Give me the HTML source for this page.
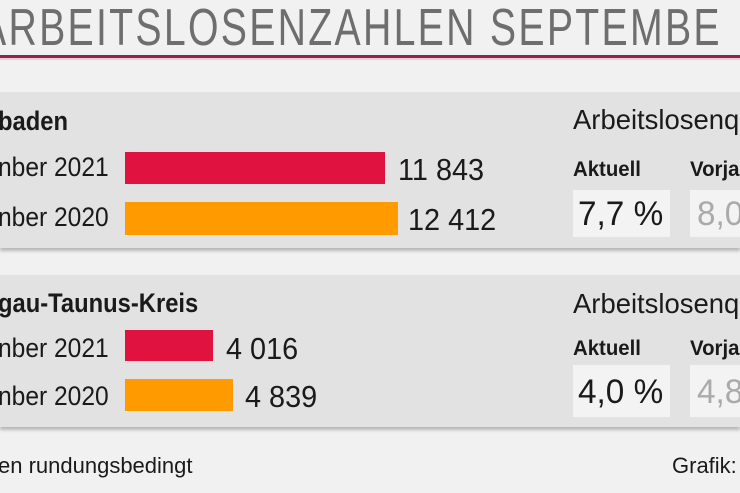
<!DOCTYPE html>
<html><head><meta charset="utf-8"><style>
body{margin:0;width:740px;height:493px;overflow:hidden;background:#f1f1f1;font-family:"Liberation Sans",sans-serif;position:relative}
.t{position:absolute;white-space:nowrap;transform-origin:0 0;line-height:1}
.panel{position:absolute;left:0;width:740px;background:#e2e2e2;box-shadow:0 3px 3px #b8b8b8}
.bar{position:absolute;left:125px}
.box{position:absolute;background:#f3f3f3}
</style></head><body>
<div class="t" style="left:-20px;top:2px;font-size:52px;color:#6e6e6e;letter-spacing:3px;transform:scaleX(0.755)">ARBEITSLOSENZAHLEN SEPTEMBE</div>
<div style="position:absolute;left:0;top:55px;width:740px;height:3px;background:#8a2a4a"></div>
<div style="position:absolute;left:0;top:58px;width:740px;height:2px;background:#f4c8d4"></div>

<div class="panel" style="top:92px;height:156px"></div>
<div class="panel" style="top:275px;height:152px"></div>

<div class="t" style="left:-2px;top:108px;font-size:27px;font-weight:bold;color:#1a1a1a;transform:scaleX(0.88)">baden</div>
<div class="t" style="left:-2px;top:154px;font-size:27px;color:#1a1a1a;transform:scaleX(0.91)">nber 2021</div>
<div class="t" style="left:-2px;top:204px;font-size:27px;color:#1a1a1a;transform:scaleX(0.91)">nber 2020</div>
<div class="bar" style="top:152px;width:260px;height:32px;background:#e0123f"></div>
<div class="bar" style="top:202px;width:273px;height:33px;background:#ff9a00"></div>
<div class="t" style="left:398px;top:154px;font-size:31px;color:#1a1a1a;transform:scaleX(0.93)">11 843</div>
<div class="t" style="left:408px;top:204px;font-size:31px;color:#1a1a1a;transform:scaleX(0.93)">12 412</div>

<div class="t" style="left:-2px;top:290px;font-size:27px;font-weight:bold;color:#1a1a1a;transform:scaleX(0.88)">gau-Taunus-Kreis</div>
<div class="t" style="left:-2px;top:335px;font-size:27px;color:#1a1a1a;transform:scaleX(0.91)">nber 2021</div>
<div class="t" style="left:-2px;top:383px;font-size:27px;color:#1a1a1a;transform:scaleX(0.91)">nber 2020</div>
<div class="bar" style="top:330px;width:88px;height:31px;background:#e0123f"></div>
<div class="bar" style="top:379px;width:108px;height:32px;background:#ff9a00"></div>
<div class="t" style="left:226px;top:333px;font-size:31px;color:#1a1a1a;transform:scaleX(0.93)">4 016</div>
<div class="t" style="left:245px;top:381px;font-size:31px;color:#1a1a1a;transform:scaleX(0.93)">4 839</div>

<div class="t" style="left:573px;top:106px;font-size:28px;color:#1a1a1a;transform:scaleX(0.98)">Arbeitslosenq</div>
<div class="t" style="left:573px;top:159px;font-size:21px;font-weight:bold;color:#1a1a1a;transform:scaleX(0.97)">Aktuell</div>
<div class="t" style="left:690px;top:159px;font-size:21px;font-weight:bold;color:#1a1a1a;transform:scaleX(0.97)">Vorja</div>
<div class="box" style="left:573px;top:190px;width:97px;height:47px"></div>
<div class="box" style="left:690px;top:190px;width:50px;height:47px"></div>
<div class="t" style="left:578px;top:197px;font-size:34px;color:#1a1a1a;transform:scaleX(0.98)">7,7 %</div>
<div class="t" style="left:697px;top:197px;font-size:34px;color:#aaa;transform:scaleX(0.98)">8,0</div>

<div class="t" style="left:573px;top:290px;font-size:28px;color:#1a1a1a;transform:scaleX(0.98)">Arbeitslosenq</div>
<div class="t" style="left:573px;top:338px;font-size:21px;font-weight:bold;color:#1a1a1a;transform:scaleX(0.97)">Aktuell</div>
<div class="t" style="left:690px;top:338px;font-size:21px;font-weight:bold;color:#1a1a1a;transform:scaleX(0.97)">Vorja</div>
<div class="box" style="left:573px;top:365px;width:97px;height:52px"></div>
<div class="box" style="left:690px;top:365px;width:50px;height:52px"></div>
<div class="t" style="left:578px;top:375px;font-size:34px;color:#1a1a1a;transform:scaleX(0.98)">4,0 %</div>
<div class="t" style="left:697px;top:375px;font-size:34px;color:#aaa;transform:scaleX(0.98)">4,8</div>

<div class="t" style="left:-2px;top:455px;font-size:22px;color:#1a1a1a">en rundungsbedingt</div>
<div class="t" style="left:672px;top:455px;font-size:22px;color:#1a1a1a">Grafik:</div>
</body></html>
